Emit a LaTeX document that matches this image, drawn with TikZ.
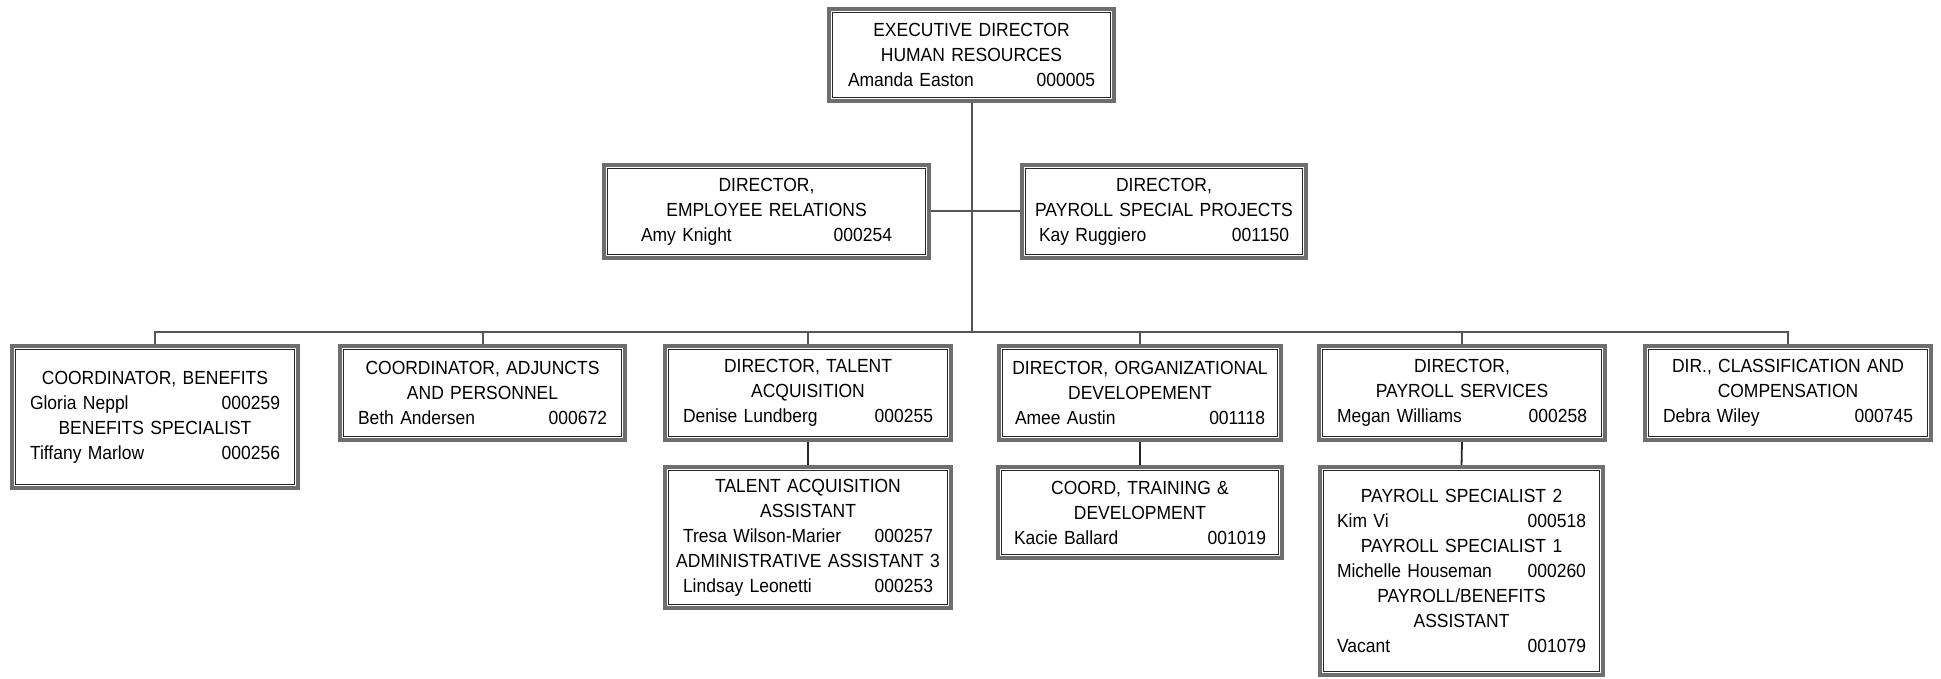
\documentclass[tikz,border=0pt]{standalone}
\usepackage{fontspec}
\setmainfont{Liberation Sans}[FakeStretch=0.92]
\usetikzlibrary{backgrounds}
\definecolor{boxgray}{HTML}{6E6E6E}
\definecolor{linegray}{HTML}{555555}
\newcommand{\nmrow}[2]{\makebox[\linewidth]{#1\hfill#2}}
\newcommand{\ctrrow}[1]{\makebox[\linewidth]{#1}}
\tikzset{
  orgbox/.style={draw=boxgray, line width=3.6pt, fill=white, anchor=north west,
    align=center, inner ysep=0pt, outer sep=0pt,
    font=\fontsize{19}{25}\selectfont},
  innerline/.style={draw=black!85, line width=1.3pt},
  conn/.style={draw=linegray, line width=2pt},
  subconn/.style={draw=black!85, line width=1.8pt},
}
% \orgnode{name}{L}{T}{R}{B}{pad}{content}
\newcommand{\orgnode}[7]{%
  \pgfmathsetmacro\orgbw{#4-#2-3.6}%
  \pgfmathsetmacro\orgbh{#5-#3-3.6}%
  \pgfmathsetmacro\orgbx{#6-1.8}%
  \pgfmathsetmacro\orgtw{#4-#2-2*#6}%
  \node[orgbox, minimum width=\orgbw pt, minimum height=\orgbh pt, inner xsep=\orgbx pt,
        text width=\orgtw pt] (#1) at ({#2+1.8},{#3+1.8}) {#7};
  \draw[innerline] ([xshift=3.5pt,yshift=-3.5pt]#1.north west) rectangle
                   ([xshift=-3.5pt,yshift=3.5pt]#1.south east);
}
\begin{document}
\begin{tikzpicture}[x=1pt,y=-1pt]
\useasboundingbox (0,0) rectangle (1941,679);
\orgnode{top}{827}{7}{1116}{103}{21}{EXECUTIVE DIRECTOR\\HUMAN RESOURCES\\\nmrow{Amanda Easton}{000005}}
\orgnode{mL}{602}{163}{931}{260}{39}{DIRECTOR,\\EMPLOYEE RELATIONS\\\nmrow{Amy Knight}{000254}}
\orgnode{mR}{1020}{163}{1308}{260}{19}{DIRECTOR,\\\ctrrow{PAYROLL SPECIAL PROJECTS}\\\nmrow{Kay Ruggiero}{001150}}
\orgnode{b1}{10}{344}{300}{490}{20}{COORDINATOR, BENEFITS\\\nmrow{Gloria Neppl}{000259}\\BENEFITS SPECIALIST\\\nmrow{Tiffany Marlow}{000256}}
\orgnode{b2}{338}{344}{627}{442}{20}{\ctrrow{COORDINATOR, ADJUNCTS}\\AND PERSONNEL\\\nmrow{Beth Andersen}{000672}}
\orgnode{b3}{663}{344}{953}{442}{20}{DIRECTOR, TALENT\\ACQUISITION\\\nmrow{Denise Lundberg}{000255}}
\orgnode{b4}{997}{344}{1283}{442}{18}{\ctrrow{DIRECTOR, ORGANIZATIONAL}\\DEVELOPEMENT\\\nmrow{Amee Austin}{001118}}
\orgnode{b5}{1317}{344}{1607}{442}{20}{DIRECTOR,\\PAYROLL SERVICES\\\nmrow{Megan Williams}{000258}}
\orgnode{b6}{1643}{344}{1933}{442}{20}{\ctrrow{DIR., CLASSIFICATION AND}\\COMPENSATION\\\nmrow{Debra Wiley}{000745}}
\orgnode{s3}{663}{465}{953}{610}{20}{TALENT ACQUISITION\\ASSISTANT\\\nmrow{Tresa Wilson-Marier}{000257}\\\ctrrow{ADMINISTRATIVE ASSISTANT 3}\\\nmrow{Lindsay Leonetti}{000253}}
\orgnode{s4}{996}{465}{1284}{560}{18}{COORD, TRAINING \&\\DEVELOPMENT\\\nmrow{Kacie Ballard}{001019}}
\orgnode{s5}{1318}{465}{1605}{677}{19}{PAYROLL SPECIALIST 2\\\nmrow{Kim Vi}{000518}\\PAYROLL SPECIALIST 1\\\nmrow{Michelle Houseman}{000260}\\PAYROLL/BENEFITS\\ASSISTANT\\\nmrow{Vacant}{001079}}
\coordinate (bar) at (top.south |- 0,332);
\begin{pgfonlayer}{background}
\draw[conn] (top.south) -- (bar);
\draw[conn] (mL.east) -- (mR.west);
\foreach \b in {b1,b2,b3,b4,b5,b6} {\draw[conn] (bar) -| (\b.north);}
\draw[subconn] (b3.south) -- (s3.north);
\draw[subconn] (b4.south) -- (s4.north);
\draw[subconn] (b5.south) -- (s5.north);
\end{pgfonlayer}
\end{tikzpicture}
\end{document}
